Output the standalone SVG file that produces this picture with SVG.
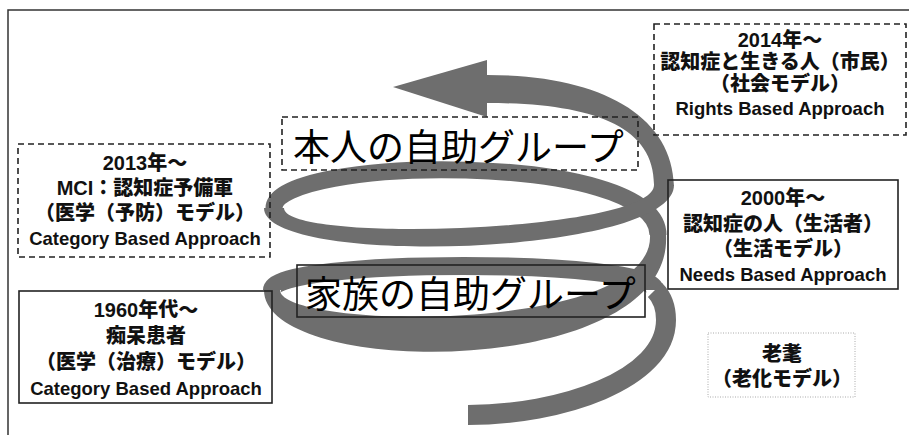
<svg xmlns="http://www.w3.org/2000/svg" width="909" height="435" viewBox="0 0 909 435">
<style>
.band{fill:none;stroke:#6e6e6e;stroke-linecap:butt}
.fillband{fill:#6e6e6e}
.box{fill:none;stroke:#222;stroke-width:1.6}
.dash{stroke-dasharray:6 4}
.dot{fill:none;stroke:#aaa;stroke-width:1;stroke-dasharray:1 1.5}
.t{font-family:"Liberation Sans","Noto Sans CJK JP",sans-serif;font-weight:900;font-size:20px;fill:#111;text-anchor:middle}
.e{font-size:18.5px;font-weight:bold}
.big{font-family:"Noto Sans CJK JP",sans-serif;font-size:37px;fill:#000}
</style>
<rect width="909" height="435" fill="#fff"/>
<path d="M8 435 V10 H909" fill="none" stroke="#333" stroke-width="1.5"/>
<g id="spiral">
  <path class="band" stroke-width="17" d="M658 235 C658 150 274 156 274 208"/>
  <path class="band" stroke-width="18" d="M655 290 C655 258 272 258 272 290"/>
  <path class="band" stroke-width="20" d="M468 415 C560 415 666 380 666 320 C666 305 660 295 655 290"/>
  <path class="fillband" d="M264 208 C264 268 674 256 674 185 L654 185 C654 232 284 244 284 208 Z"/>
  <path class="fillband" d="M264 290 C264 380 674 380 666 235 L650 235 C655 335 280 330 280 290 Z"/>
  <path class="fillband" d="M674 186 C672 115 600 75 487 75 L487 103 C590 103 655 125 654 186 Z"/>
  <polygon class="fillband" points="393,87 487,60 487,117"/>
</g>
<g id="node-2014">
  <rect class="box dash" x="654" y="24" width="252" height="111"/>
  <text class="t" x="780" y="47">2014年～</text>
  <text class="t" x="780" y="69">認知症と生きる人（市民）</text>
  <text class="t" x="780" y="91">（社会モデル）</text>
  <text class="t e" x="780" y="115">Rights Based Approach</text>
</g>
<g id="node-2013">
  <rect class="box dash" x="18" y="144" width="252" height="113"/>
  <text class="t" x="145" y="170">2013年～</text>
  <text class="t" x="145" y="195">MCI：認知症予備軍</text>
  <text class="t" x="145" y="220">（医学（予防）モデル）</text>
  <text class="t e" x="145" y="245">Category Based Approach</text>
</g>
<g id="node-1960">
  <rect class="box" x="19" y="291" width="253" height="112"/>
  <text class="t" x="146" y="317">1960年代～</text>
  <text class="t" x="146" y="343">痴呆患者</text>
  <text class="t" x="146" y="369">（医学（治療）モデル）</text>
  <text class="t e" x="146" y="395">Category Based Approach</text>
</g>
<g id="node-2000">
  <rect class="box" x="668" y="180" width="230" height="109"/>
  <text class="t" x="783" y="205">2000年～</text>
  <text class="t" x="783" y="231">認知症の人（生活者）</text>
  <text class="t" x="783" y="256">（生活モデル）</text>
  <text class="t e" x="783" y="281">Needs Based Approach</text>
</g>
<g id="node-rouboku">
  <rect class="dot" x="708" y="333" width="147" height="64"/>
  <text class="t" x="782" y="361">老耄</text>
  <text class="t" x="782" y="386">（老化モデル）</text>
</g>
<g id="label-honnin">
  <rect class="box dash" x="282" y="117" width="356" height="53"/>
  <text class="big" x="293" y="161">本人の自助グループ</text>
</g>
<g id="label-kazoku">
  <rect class="box" x="297" y="265" width="348" height="52"/>
  <text class="big" x="305" y="308">家族の自助グループ</text>
</g>
</svg>
